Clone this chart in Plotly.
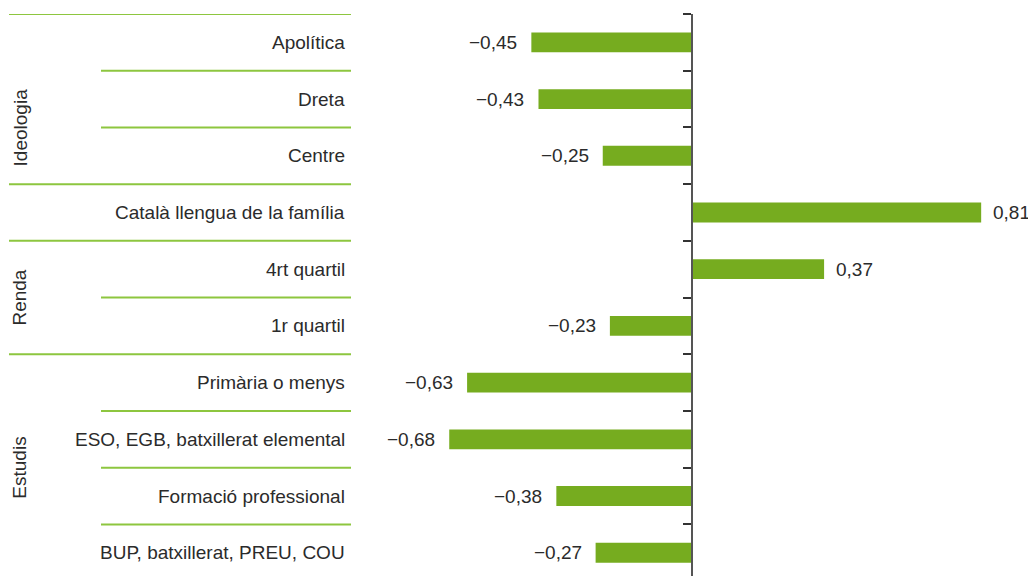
import plotly.graph_objects as go

categories = [
    "Apolítica", "Dreta", "Centre", "Català llengua de la família",
    "4rt quartil", "1r quartil", "Primària o menys",
    "ESO, EGB, batxillerat elemental", "Formació professional",
    "BUP, batxillerat, PREU, COU",
]
values = [-0.45, -0.43, -0.25, 0.81, 0.37, -0.23, -0.63, -0.68, -0.38, -0.27]

groups = ["Ideologia", "Renda", "Estudis"]
group_pos = [1.5, 4.5, 7.5]
# row boundaries: full-width lines vs. sub-row lines
full_lines = [-0.5, 2.5, 3.5, 5.5]
sub_lines = [0.5, 1.5, 4.5, 6.5, 7.5, 8.5]

# page has an 8px body margin, so the figure is drawn 8px smaller
W, H = 1028, 568
BAR = "#76AC1F"
SEP = "#8DC63F"
TXT = "#2b2b2b"
FONT = "Liberation Sans"
FS = 19

rows = list(range(len(categories)))
labels = [("−" if v < 0 else "") + f"{abs(v):.2f}".replace(".", ",") for v in values]

fig = go.Figure()
fig.add_trace(go.Bar(
    x=values, y=rows, orientation="h", width=0.35,
    marker=dict(color=BAR, line=dict(width=0)),
    hoverinfo="skip",
))

annotations = []
for r, v, t in zip(rows, values, labels):
    annotations.append(dict(
        x=v, y=r, xref="x", yref="y", text=t, showarrow=False,
        xanchor="right" if v < 0 else "left", yanchor="middle",
        xshift=-12 if v < 0 else 10,
        font=dict(family=FONT, size=FS, color=TXT),
    ))
for r, c in zip(rows, categories):
    annotations.append(dict(
        x=339 / W, y=r, xref="paper", yref="y", text=c, showarrow=False,
        xanchor="right", yanchor="middle",
        font=dict(family=FONT, size=FS, color=TXT),
    ))
for g, p in zip(groups, group_pos):
    annotations.append(dict(
        x=12 / W, y=p, xref="paper", yref="y", text=g, showarrow=False,
        textangle=-90, xanchor="center", yanchor="middle",
        font=dict(family=FONT, size=FS, color=TXT),
    ))

shapes = []
for b in full_lines:
    shapes.append(dict(type="line", xref="paper", yref="y", x0=1 / W, x1=343 / W,
                       y0=b, y1=b, line=dict(color=SEP, width=2)))
for b in sub_lines:
    shapes.append(dict(type="line", xref="paper", yref="y", x0=93 / W, x1=343 / W,
                       y0=b, y1=b, line=dict(color=SEP, width=2)))

fig.update_layout(
    width=W, height=H,
    margin=dict(l=0, r=0, t=6, b=0),
    plot_bgcolor="white", paper_bgcolor="white",
    showlegend=False,
    annotations=annotations, shapes=shapes,
    xaxis=dict(range=[-684 / 357, (W - 684) / 357], visible=False, fixedrange=True),
    yaxis=dict(
        range=[9.41, -0.5], anchor="free", position=684 / W,
        showline=True, linecolor="#555555", linewidth=2,
        ticks="outside", tickvals=[-0.5] + [r + 0.5 for r in rows[:-1]],
        ticklen=8, tickwidth=2, tickcolor="#333333",
        showticklabels=False, showgrid=False, zeroline=False,
    ),
)

fig.write_html("out.html")
